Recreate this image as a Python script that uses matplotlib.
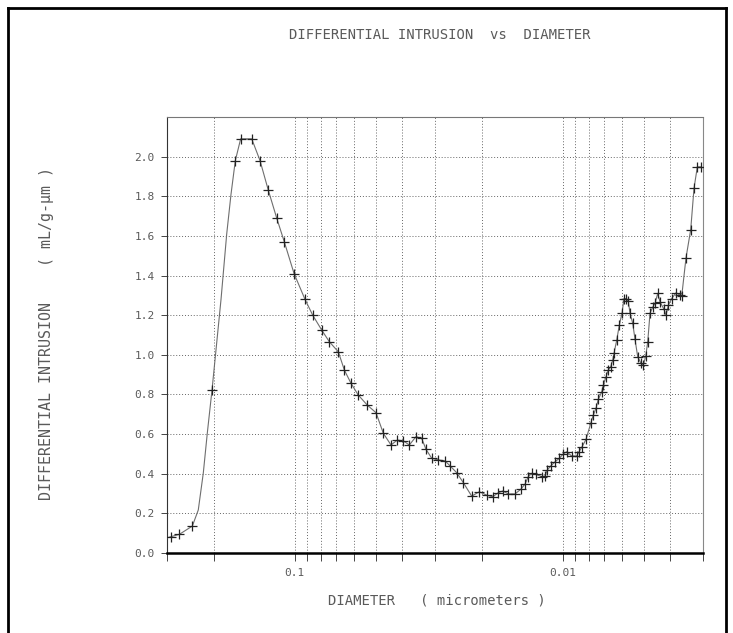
import matplotlib
matplotlib.use("Agg")
import matplotlib.pyplot as plt
from matplotlib.ticker import FixedLocator, NullFormatter, FixedFormatter
from matplotlib.lines import Line2D

# ---- data ----
diameter = [0.2992, 0.2906, 0.2699, 0.2413, 0.2293, 0.2196, 0.2122, 0.2038, 0.1886, 0.1796,
            0.1731, 0.1668, 0.1593, 0.1449, 0.1349, 0.1256, 0.1169, 0.1095, 0.1007, 0.09167,
            0.08578, 0.07941, 0.07437, 0.06883, 0.06536, 0.06172, 0.0580, 0.05366, 0.0498, 0.04677,
            0.04378, 0.04147, 0.03939, 0.03741, 0.03532, 0.03363, 0.03241, 0.03086, 0.02916, 0.02753,
            0.02637, 0.02489, 0.02352, 0.02189, 0.0205, 0.01924, 0.01827, 0.01741, 0.01677, 0.01598,
            0.01509, 0.01437, 0.01384, 0.01346, 0.01307, 0.0126, 0.0120, 0.01166, 0.01143, 0.0111,
            0.0107, 0.01031, 0.009963, 0.009676, 0.009268, 0.00888, 0.008706, 0.008506, 0.008198, 0.007873,
            0.007699, 0.007524, 0.007377, 0.007163, 0.007065, 0.006902, 0.006769, 0.00663, 0.006516, 0.006445,
            0.006296, 0.006157, 0.006016, 0.005914, 0.005813, 0.005699, 0.005617, 0.005488, 0.00538, 0.005257,
            0.005109, 0.00501, 0.004907, 0.004823, 0.00473, 0.004621, 0.00453, 0.004426, 0.004339, 0.004193,
            0.004122, 0.004042, 0.003925, 0.003782, 0.003654, 0.003602, 0.003471, 0.003334, 0.003241, 0.00315,
            0.003052]
intrusion = [0.077, 0.082, 0.094, 0.136, 0.217, 0.404, 0.605, 0.822, 1.28, 1.61,
             1.81, 1.98, 2.09, 2.09, 1.98, 1.83, 1.69, 1.57, 1.41, 1.28,
             1.20, 1.125, 1.066, 1.015, 0.923, 0.856, 0.797, 0.746, 0.708, 0.604,
             0.545, 0.570, 0.566, 0.545, 0.587, 0.578, 0.523, 0.478, 0.47, 0.465,
             0.44, 0.405, 0.355, 0.287, 0.309, 0.292, 0.284, 0.304, 0.313, 0.298,
             0.298, 0.321, 0.348, 0.385, 0.402, 0.397, 0.385, 0.388, 0.419, 0.439,
             0.46, 0.478, 0.50, 0.511, 0.489, 0.489, 0.511, 0.533, 0.573, 0.654,
             0.696, 0.73, 0.775, 0.813, 0.847, 0.889, 0.923, 0.94, 0.973, 1.007,
             1.074, 1.15, 1.21, 1.284, 1.284, 1.27, 1.21, 1.16, 1.078, 0.99,
             0.957, 0.948, 0.993, 1.066, 1.21, 1.24, 1.26, 1.31, 1.267, 1.229,
             1.2, 1.25, 1.284, 1.313, 1.301, 1.296, 1.49, 1.632, 1.84, 1.948,
             1.948]
# points drawn without a '+' marker (smooth rising part)
unmarked = [0, 4, 5, 6, 8, 9, 10]

x_major = [0.1, 0.01]
x_major_labels = ["0.1", "0.01"]
x_minor = [0.3, 0.2, 0.09, 0.08, 0.07, 0.06, 0.05, 0.04, 0.03, 0.02,
           0.009, 0.008, 0.007, 0.006, 0.005, 0.004, 0.003]
y_ticks = [0.0, 0.2, 0.4, 0.6, 0.8, 1.0, 1.2, 1.4, 1.6, 1.8, 2.0]
y_labels = ["0.0", "0.2", "0.4", "0.6", "0.8", "1.0", "1.2", "1.4", "1.6", "1.8", "2.0"]

title = "DIFFERENTIAL INTRUSION  vs  DIAMETER"
xlabel = "DIAMETER   ( micrometers )"
ylabel = "DIFFERENTIAL INTRUSION    ( mL/g-\u00b5m )"

# ---- style ----
plt.rcParams['font.family'] = ['DejaVu Sans Mono', 'DejaVu Sans']
txt = "#5a5a5a"

fig = plt.figure(figsize=(7.33, 6.33), dpi=100)
ax = fig.add_axes([167 / 733, 80 / 633, 536 / 733, 436 / 633])

marked = [i for i in range(len(diameter)) if i not in unmarked]
ax.plot(diameter, intrusion, color="#6e6e6e", lw=0.8, zorder=3)
ax.plot(diameter, intrusion, linestyle="none", marker="+", markersize=7,
        markeredgewidth=0.9, color="#222222", markevery=marked, zorder=4)

ax.set_xscale("log")
ax.set_xlim(0.3, 0.003)
ax.set_ylim(0.0, 2.2)

ax.xaxis.set_major_locator(FixedLocator(x_major))
ax.xaxis.set_major_formatter(FixedFormatter(x_major_labels))
ax.xaxis.set_minor_locator(FixedLocator(x_minor))
ax.xaxis.set_minor_formatter(NullFormatter())
ax.set_yticks(y_ticks)
ax.set_yticklabels(y_labels)

ax.tick_params(axis="x", which="both", direction="out", length=6, width=0.7,
               color="#444444", labelsize=8, labelcolor=txt, pad=5)
ax.tick_params(axis="y", which="major", direction="out", length=4, width=0.7,
               color="#444444", labelsize=8, labelcolor=txt, pad=5)

ax.grid(True, which="both", axis="x", linestyle=(0, (1, 2)), color="#666666", lw=0.7)
ax.grid(True, which="major", axis="y", linestyle=(0, (1, 2)), color="#666666", lw=0.7)
ax.set_axisbelow(True)

ax.spines["bottom"].set_linewidth(1.8)
ax.spines["bottom"].set_color("black")
ax.spines["left"].set_linewidth(0.8)
ax.spines["left"].set_color("#333333")
ax.spines["top"].set_linewidth(0.8)
ax.spines["top"].set_color("#777777")
ax.spines["right"].set_linewidth(0.8)
ax.spines["right"].set_color("#888888")
ax.spines["right"].set_linestyle((0, (2, 1)))

fig.text(440 / 733, 1 - 35 / 633, title, ha="center", va="center",
         fontsize=10, color=txt)
fig.text(437 / 733, 1 - 600 / 633, xlabel, ha="center", va="center",
         fontsize=10, color=txt)
fig.text(46 / 733, 1 - 333 / 633, ylabel, ha="center", va="center",
         rotation=90, fontsize=10.8, color=txt)

# outer frame (left, top, right)
fr = dict(color="black", lw=2, transform=fig.transFigure)
fig.add_artist(Line2D([8 / 733, 8 / 733], [0, 1 - 8 / 633], **fr))
fig.add_artist(Line2D([8 / 733, 726 / 733], [1 - 8 / 633, 1 - 8 / 633], **fr))
fig.add_artist(Line2D([726 / 733, 726 / 733], [0, 1 - 8 / 633], **fr))

fig.savefig("out.png", dpi=100, facecolor="white")
